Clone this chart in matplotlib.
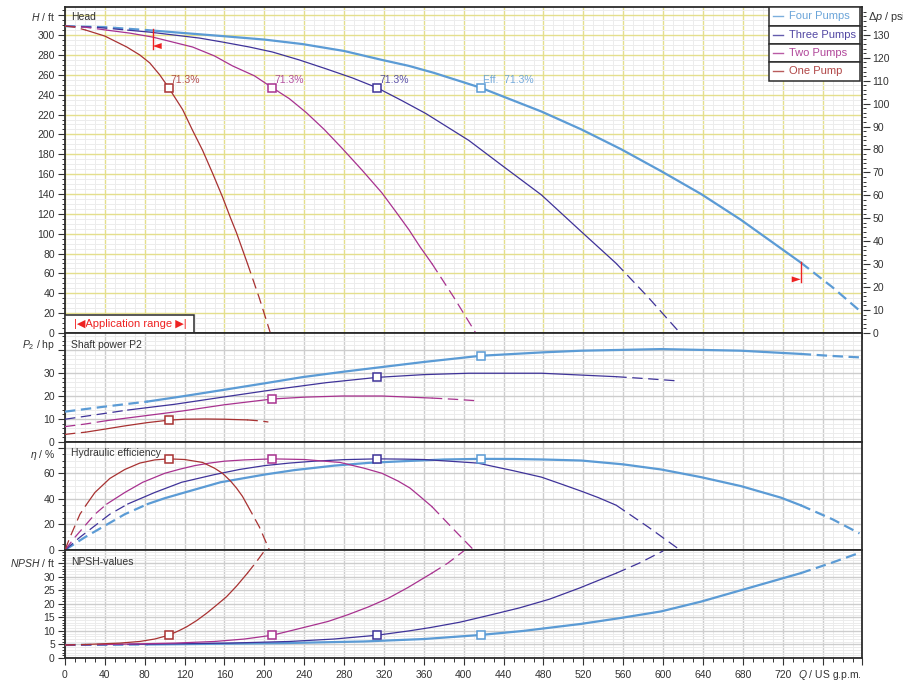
import numpy as np
import matplotlib
matplotlib.use('Agg')
import matplotlib.pyplot as plt
from matplotlib.patches import Rectangle
from matplotlib.ticker import MultipleLocator

plt.rcParams['font.family'] = ['Liberation Sans', 'DejaVu Sans']
plt.rcParams['mathtext.fontset'] = 'custom'
plt.rcParams['mathtext.rm'] = 'Liberation Sans'
plt.rcParams['mathtext.it'] = 'Liberation Sans:italic'
plt.rcParams['lines.scale_dashes'] = False

# ---------------- data ----------------
names = ['One Pump', 'Two Pumps', 'Three Pumps', 'Four Pumps']
colors = ['#a83232', '#a8328f', '#3f3399', '#5b9bd5']
widths = [0.9, 0.9, 0.9, 1.6]

# solid (application) range of each curve, US gpm
q_lo = [21, 42, 63, 83]
q_hi = [183, 368, 553, 738]

# best efficiency point
q_bep = [104, 208, 313, 417]
h_bep = [247, 247, 247, 247]
p_bep = [9.5, 18.7, 28.1, 37.5]
eta_bep = [71.3, 71.3, 71.3, 71.3]
npsh_bep = [8.4, 8.4, 8.4, 8.5]
bep_text = ['71.3%', '71.3%', '71.3%', 'Eff.  71.3%']

# head H / ft
q_h1 = [0, 10, 21, 40, 62, 75, 85, 95, 104, 118, 128, 138, 148, 158, 166, 172, 183, 195, 206]
h_1 = [309, 308, 305, 299, 288, 280, 272, 260, 247, 225, 204, 184, 161, 137, 116, 101, 70, 35, 0]
q_h2 = [0, 20, 42, 65, 88, 108, 128, 150, 168, 190, 208, 225, 242, 260, 278, 298, 318, 332, 345,
        356, 368, 390, 412]
h_2 = [309, 308, 305, 302, 298, 293, 288, 279, 269, 259, 247, 236, 222, 205, 186, 164, 141, 122, 104,
       87, 70, 36, 0]
q_h3 = [0, 30, 63, 85, 110, 135, 158, 185, 208, 235, 262, 288, 313, 338, 362, 405, 438, 478, 518,
        553, 585, 617]
h_3 = [309, 308, 305, 303, 300, 297, 293, 288, 283, 275, 266, 257, 247, 234, 221, 194, 169, 139, 102,
       70, 36, 0]
q_h4 = [0, 40, 83, 120, 158, 200, 238, 280, 318, 345, 370, 417, 478, 518, 558, 598, 638, 678, 738,
        770, 800]
h_4 = [309, 308, 305, 302, 299, 295.5, 291, 284, 275, 269, 262, 247, 223, 205, 185, 163, 140, 114, 71,
       46, 20]

# shaft power P2 / hp
q_p1 = [0, 10, 21, 40, 60, 82, 104, 120, 142, 160, 183, 195, 204]
p_1 = [3.3, 3.8, 4.3, 5.6, 7.0, 8.4, 9.5, 9.9, 10.0, 9.9, 9.6, 9.2, 8.7]
q_p2 = [0, 20, 42, 80, 118, 160, 208, 240, 278, 318, 368, 390, 411]
p_2 = [6.7, 7.8, 9.3, 11.4, 13.5, 16.2, 18.7, 19.5, 20.0, 20.0, 19.1, 18.6, 18.0]
q_p3 = [0, 30, 63, 110, 158, 210, 262, 313, 360, 405, 478, 553, 585, 617]
p_3 = [9.9, 11.8, 13.9, 16.4, 19.5, 22.8, 25.8, 28.1, 29.3, 29.9, 29.9, 28.4, 27.5, 26.5]
q_p4 = [0, 40, 83, 120, 158, 200, 238, 280, 318, 360, 417, 480, 518, 598, 678, 738, 770, 797]
p_4 = [13.2, 15.4, 17.6, 20.0, 22.6, 25.5, 28.2, 30.6, 32.6, 34.8, 37.5, 39.0, 39.7, 40.4, 39.7,
       38.3, 37.4, 36.8]

# hydraulic efficiency eta / %
q_e1 = [0, 5, 10, 15, 21, 30, 45, 60, 75, 90, 104, 120, 138, 150, 158, 166, 172, 178, 183, 195, 205]
e_1 = [0, 10, 19, 28, 35, 45, 56, 63, 68, 70.5, 71.3, 70.8, 68.5, 64, 60, 54, 48.5, 42, 35, 18, 0]
q_e2 = [0, 10, 20, 30, 42, 60, 78, 100, 115, 130, 145, 160, 180, 208, 240, 276, 300, 318, 334, 346,
        356, 368, 390, 410]
e_2 = [0, 10, 19, 28, 36, 45, 53, 60, 63.2, 66, 68, 69.5, 70.5, 71.3, 70.8, 68.5, 64, 60, 54, 48.5,
       42, 34, 16, 0]
q_e3 = [0, 15, 30, 45, 63, 90, 117, 150, 175, 200, 225, 250, 280, 313, 340, 360, 395, 414, 450, 478,
        500, 518, 535, 553, 585, 617]
e_3 = [0, 10, 19, 28, 36, 45, 53, 59, 63, 66, 68, 69.5, 70.7, 71.3, 71.1, 70.8, 69, 68, 62, 57, 51,
       46, 41, 35, 18, 0]
q_e4 = [0, 20, 40, 60, 83, 100, 120, 156, 200, 230, 270, 305, 340, 380, 417, 450, 480, 518, 560, 598,
        638, 678, 718, 738, 770, 797]
e_4 = [0, 10, 19, 28, 36, 40.5, 45, 53, 59, 62.5, 66, 68.2, 69.5, 70.8, 71.3, 71.2, 70.8, 70, 67, 63,
       57, 50, 41, 35, 24, 13]

# NPSH / ft
q_n1 = [0, 10, 21, 35, 55, 75, 90, 104, 115, 122, 132, 142, 152, 162, 172, 183, 192, 200]
n_1 = [4.8, 4.9, 5.0, 5.2, 5.5, 6.1, 7.0, 8.4, 10.2, 11.5, 13.8, 16.5, 19.5, 22.6, 26.5, 31.3, 35.5, 39.5]
q_n2 = [0, 20, 42, 70, 110, 150, 180, 208, 240, 264, 284, 304, 324, 344, 368, 384, 400]
n_2 = [4.8, 4.9, 5.0, 5.2, 5.5, 6.1, 7.0, 8.4, 11.3, 13.5, 16.0, 18.8, 22.0, 26.0, 31.3, 35.0, 39.5]
q_n3 = [0, 30, 63, 105, 165, 225, 270, 313, 345, 366, 396, 426, 456, 486, 516, 553, 576, 600]
n_3 = [4.8, 4.9, 5.0, 5.2, 5.5, 6.1, 7.0, 8.4, 10.0, 11.2, 13.2, 15.8, 18.5, 21.7, 25.8, 31.3, 35.0, 39.5]
q_n4 = [0, 40, 83, 140, 220, 300, 360, 417, 460, 518, 558, 598, 638, 678, 738, 768, 797]
n_4 = [4.8, 4.9, 5.0, 5.2, 5.5, 6.1, 7.0, 8.5, 10.0, 12.6, 14.8, 17.2, 20.8, 25.0, 31.3, 35.0, 38.8]

head = [(q_h1, h_1), (q_h2, h_2), (q_h3, h_3), (q_h4, h_4)]
power = [(q_p1, p_1), (q_p2, p_2), (q_p3, p_3), (q_p4, p_4)]
eff = [(q_e1, e_1), (q_e2, e_2), (q_e3, e_3), (q_e4, e_4)]
npsh = [(q_n1, n_1), (q_n2, n_2), (q_n3, n_3), (q_n4, n_4)]

# application range markers on the four pump curve
app_q = [88, 738]
app_h = [306, 71]

q_ticks = list(range(0, 801, 40))
q_labels = [str(t) if t <= 720 else '' for t in q_ticks]
psi_per_ft = 1 / 2.31

# ---------------- figure ----------------
W, H = 904, 683
fig = plt.figure(figsize=(W / 100, H / 100), dpi=100)
x0, x1 = 65, 862.5


def box(top, bot):
    return [x0 / W, 1 - bot / H, (x1 - x0) / W, (bot - top) / H]


ax_h = fig.add_axes(box(7.3, 333))
ax_p = fig.add_axes(box(333, 442))
ax_e = fig.add_axes(box(442, 550))
ax_n = fig.add_axes(box(550, 658))
axes = [ax_h, ax_p, ax_e, ax_n]

txt = '#333333'
dash = (0, (7.5, 4.0))


def draw(ax, data, bep_vals):
    for i in [3, 2, 1, 0]:
        q = np.array(data[i][0], float)
        v = np.array(data[i][1], float)
        c, lw = colors[i], widths[i]
        m = (q >= q_lo[i]) & (q <= q_hi[i])
        ax.plot(q[m], v[m], color=c, lw=lw, zorder=4)
        m = q <= q_lo[i]
        ax.plot(q[m], v[m], color=c, lw=lw, ls=dash, zorder=4)
        m = q >= q_hi[i]
        ax.plot(q[m], v[m], color=c, lw=lw, ls=dash, zorder=4)
        ax.plot(q_bep[i], bep_vals[i], marker='s', ms=6, mfc='white',
                mec=c, mew=1.1, zorder=6)


draw(ax_h, head, h_bep)
draw(ax_p, power, p_bep)
draw(ax_e, eff, eta_bep)
draw(ax_n, npsh, npsh_bep)

for i in range(4):
    ax_h.annotate(bep_text[i], (q_bep[i], h_bep[i]), xytext=(1.5, 3.5),
                  textcoords='offset points', color=colors[i], fontsize=7.5,
                  va='baseline', ha='left', alpha=0.85, zorder=7)

# application range markers
red = '#ee2222'
ax_h.plot([app_q[0], app_q[0]], [app_h[0], app_h[0] - 20], color=red, lw=1.0, zorder=6)
ax_h.fill([app_q[0], app_q[0] + 9, app_q[0] + 9],
          [app_h[0] - 17, app_h[0] - 14, app_h[0] - 20], color=red, zorder=6, lw=0)
ax_h.plot([app_q[1], app_q[1]], [app_h[1], app_h[1] - 20], color=red, lw=1.0, zorder=6)
ax_h.fill([app_q[1], app_q[1] - 9, app_q[1] - 9],
          [app_h[1] - 17, app_h[1] - 14, app_h[1] - 20], color=red, zorder=6, lw=0)

# ---------------- axes styling ----------------
ylims = [(0, 328), (0, 47.4), (0, 84.5), (0, 39.85)]
majors = [20, 10, 20, 5]
minors = [5, 2, 5, 1]
tops = [320, 40, 80, 35]
titles = ['$H$ / ft', '$P_2$ / hp', r'$\eta$ / %', '$NPSH$ / ft']
title_y = [17, 345, 455, 563]
panel_names = ['Head', 'Shaft power P2', 'Hydraulic efficiency', 'NPSH-values']
panel_y = [0.970, 0.89, 0.898, 0.89]

for k, ax in enumerate(axes):
    ax.set_xlim(0, 800)
    ax.set_ylim(*ylims[k])
    ax.set_xticks(q_ticks)
    ax.xaxis.set_minor_locator(MultipleLocator(10))
    yt = list(range(0, tops[k] + 1, majors[k]))
    ax.set_yticks(yt)
    ax.set_yticklabels([str(t) for t in yt[:-1]] + [''])
    ax.yaxis.set_minor_locator(MultipleLocator(minors[k]))
    ax.tick_params(axis='y', which='major', direction='out', length=4.8, width=0.8,
                   pad=2.5, labelsize=7.5, colors=txt)
    ax.tick_params(axis='y', which='minor', direction='out', length=2.4, width=0.7, colors=txt)
    if ax is ax_n:
        ax.set_xticklabels(q_labels)
        ax.tick_params(axis='x', which='major', direction='out', length=5, width=0.8,
                       pad=4, labelsize=7.5, colors=txt)
        ax.tick_params(axis='x', which='minor', direction='out', length=2.6, width=0.7, colors=txt)
    elif ax is ax_h:
        ax.tick_params(axis='x', which='major', direction='out', length=4, width=0.7,
                       labelbottom=False, colors=txt)
        ax.tick_params(axis='x', which='minor', direction='out', length=2.4, width=0.7, colors=txt)
    else:
        ax.tick_params(axis='x', which='both', length=0, labelbottom=False)
    for s in ax.spines.values():
        s.set_color('#2b2b2b')
        s.set_linewidth(1.3)
    ax.set_axisbelow(True)
    if ax is ax_h:
        ax.grid(which='major', color='#e4df8c', lw=1.0)
    else:
        ax.grid(which='major', color='#cdcdcd', lw=1.0)
    ax.grid(which='minor', color='#ececec', lw=0.7)
    ax.text(0.008, panel_y[k], panel_names[k], transform=ax.transAxes,
            va='center', ha='left', fontsize=7.5, color=txt, zorder=8)
    fig.text(55 / W, 1 - title_y[k] / H, titles[k], ha='right', va='center',
             fontsize=7.5, color=txt)

# right pressure axis of head panel
ax_r = ax_h.twinx()
ax_r.set_ylim(0, 328 * psi_per_ft)
ax_r.set_yticks(range(0, 131, 10))
ax_r.yaxis.set_minor_locator(MultipleLocator(2))
ax_r.tick_params(axis='y', which='major', direction='out', length=4.8, width=0.8,
                 pad=2.5, labelsize=7.5, colors=txt)
ax_r.tick_params(axis='y', which='minor', direction='out', length=2.4, width=0.7, colors=txt)
for s in ax_r.spines.values():
    s.set_visible(False)
fig.text(868 / W, 1 - 17 / H, r'$\Delta p$ / psi', ha='left', va='center',
         fontsize=7.8, color=txt)

# x axis label
fig.text(862 / W, 1 - 675 / H, '$Q$ / US g.p.m.', ha='right', va='center',
         fontsize=7.5, color=txt)

# legend (stacked boxes)
lx0, lx1 = (769 - x0) / (x1 - x0), (860 - x0) / (x1 - x0)
rh = 18.3 / 325.7
for r, i in enumerate([3, 2, 1, 0]):
    yb = 1 - (r + 1) * rh
    ax_h.add_patch(Rectangle((lx0, yb), lx1 - lx0, rh, transform=ax_h.transAxes,
                             fc='white', ec='#2b2b2b', lw=1.1, zorder=9))
    yc = yb + rh / 2
    ax_h.plot([lx0 + 0.005, lx0 + 0.018], [yc, yc], transform=ax_h.transAxes,
              color=colors[i], lw=1.0, zorder=10, alpha=0.8)
    ax_h.text(lx0 + 0.025, yc, names[i], transform=ax_h.transAxes, color=colors[i],
              fontsize=8, va='center', ha='left', zorder=10, alpha=0.9)

# application range box
ax_h.add_patch(Rectangle((0, 0), (194 - x0) / (x1 - x0), 18 / 325.7,
                         transform=ax_h.transAxes, fc='white', ec='#2b2b2b',
                         lw=1.1, zorder=9))
ax_h.text((130 - x0) / (x1 - x0), 9 / 325.7, '|\u25c0Application range \u25b6|',
          transform=ax_h.transAxes, color=red, fontsize=8, ha='center',
          va='center', zorder=10)

fig.savefig('out.png', dpi=100)
